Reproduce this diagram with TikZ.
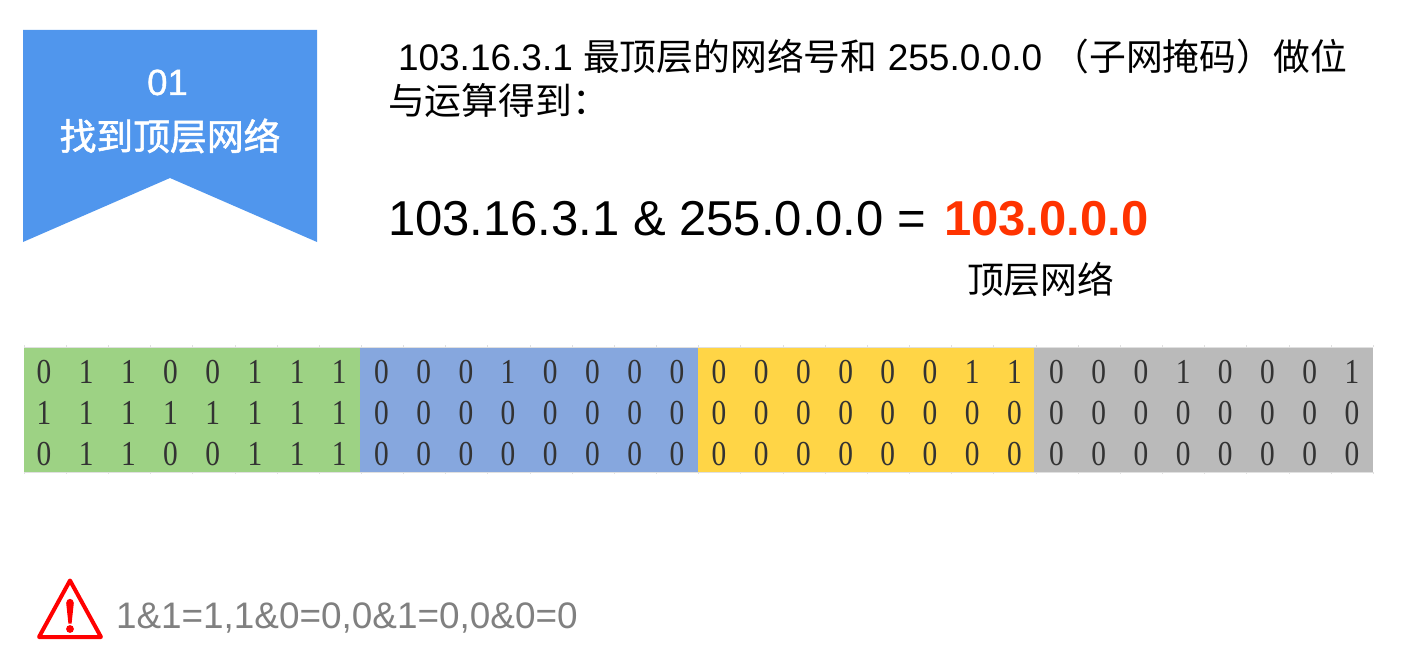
\documentclass[tikz,border=0pt]{standalone}
\usepackage{graphicx}
\usepackage{fontspec}
\setmainfont{Liberation Sans}
\newfontfamily\serifdigits{Liberation Serif}
\newfontfamily\cjk{Noto Sans CJK SC}
\newfontfamily\cjkb[FakeBold=1.5]{Noto Sans CJK SC}
\newfontfamily\latb[FakeBold=1]{Liberation Sans}
\newcommand{\fsz}[1]{\fontsize{#1}{#1}\selectfont}
\definecolor{bannerblue}{HTML}{5096ED}
\definecolor{bandgreen}{HTML}{9DD284}
\definecolor{bandblue}{HTML}{86A7DE}
\definecolor{bandyellow}{HTML}{FFD546}
\definecolor{bandgray}{HTML}{BABABA}
\definecolor{resultred}{HTML}{FF3300}
\definecolor{notegray}{HTML}{808080}
\definecolor{warnred}{HTML}{FF0000}
\tikzset{
  label text/.style={inner sep=0pt,outer sep=0pt,anchor=base west,text=black},
  bit/.style={inner sep=0pt,outer sep=0pt,anchor=center,text=black!80,font=\serifdigits\fsz{35}},
}
\begin{document}
\begin{tikzpicture}[x=1pt,y=-1pt]
\useasboundingbox (0,0) rectangle (1426,658);
% banner
\fill[bannerblue] (23,30) -- (317,30) -- (317,242) -- (170,178) -- (23,242) -- cycle;
\node[inner sep=0pt,text=white,anchor=base] (num) at (167.5,95) {\latb\fsz{36.5}01};
\node[inner sep=0pt,text=white,anchor=base] (title) at (170,150) {\cjkb\fsz{36.8}找到顶层网络};
% text
\node[label text] (line1) at (398,71) {\fsz{37}103.16.3.1 {\cjk\fsz{36.8}最顶层的网络号和} 255.0.0.0 {\cjk\fsz{36.8}（子网掩码）做位}};
\node[label text] (line2) at (388,115) {\cjk\fsz{36.8}与运算得到：};
\node[label text] (eq) at (388,235) {\fsz{49}103.16.3.1 \& 255.0.0.0 =};
\node[label text,text=resultred,font=\bfseries\fsz{49}] (res) at (944,235) {103.0.0.0};
\node[label text] (top) at (967,293) {\cjk\fsz{36.8}顶层网络};
% bands
\fill[bandgreen]  (24,347) rectangle (360,472);
\fill[bandblue]   (360,347) rectangle (698,472);
\fill[bandyellow] (698,347) rectangle (1034,472);
\fill[bandgray]   (1034,347) rectangle (1373,472);
\foreach \i in {0,...,32}{
  \draw[black!12,line width=.6pt] ({24+\i*42.16},345) -- ({24+\i*42.16},347);
  \draw[black!12,line width=.6pt] ({24+\i*42.16},472) -- ({24+\i*42.16},474);
}
\draw[black!12,line width=.8pt] (24,347) -- (1373,347) (24,472) -- (1373,472);
% bits
\foreach \r/\y/\bits in {
 0/372/{0,1,1,0,0,1,1,1,0,0,0,1,0,0,0,0,0,0,0,0,0,0,1,1,0,0,0,1,0,0,0,1},
 1/413/{1,1,1,1,1,1,1,1,0,0,0,0,0,0,0,0,0,0,0,0,0,0,0,0,0,0,0,0,0,0,0,0},
 2/454/{0,1,1,0,0,1,1,1,0,0,0,0,0,0,0,0,0,0,0,0,0,0,0,0,0,0,0,0,0,0,0,0}}{
  \foreach \b [count=\c from 0] in \bits {
    \node[bit] (b\r-\c) at ({44+\c*42.19},\y) {\scalebox{.84}[1]{\b}};
  }
}
% warning
\draw[warnred,line width=4pt,line join=round] (70,580.5) -- (101,637) -- (39,637) -- cycle;
\fill[warnred] (66.2,603) .. controls (66.2,597.5) and (73.8,597.5) .. (73.8,603) -- (71.6,623.5) -- (68.4,623.5) -- cycle;
\fill[warnred] (70,629) circle (3.9);
\node[label text,text=notegray,font=\fsz{36.9}] (note) at (116,628) {1\&1=1,1\&0=0,0\&1=0,0\&0=0};
\end{tikzpicture}
\end{document}
